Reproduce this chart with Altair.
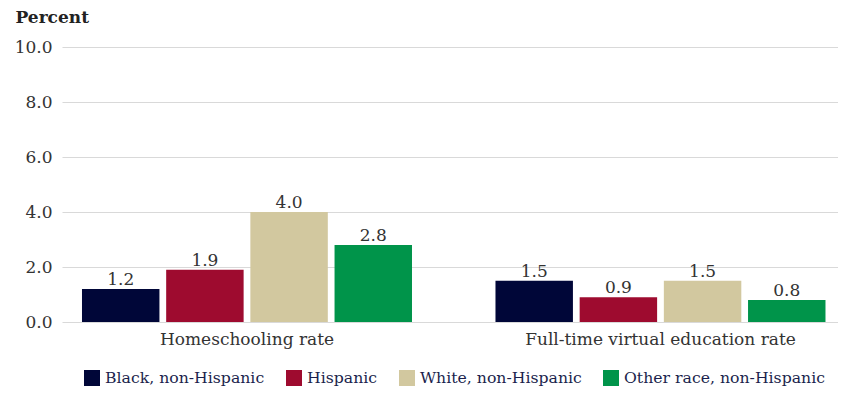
import altair as alt
import pandas as pd

measures = ["Homeschooling rate", "Full-time virtual education rate"]
races = ["Black, non-Hispanic", "Hispanic", "White, non-Hispanic", "Other race, non-Hispanic"]
homeschool = [1.2, 1.9, 4.0, 2.8]
virtual = [1.5, 0.9, 1.5, 0.8]
colors = ["#000638", "#9e0b2f", "#d2c89f", "#00944a"]
y_ticks = [0, 2, 4, 6, 8, 10]

rows = []
for r, v in zip(races, homeschool):
    rows.append({"measure": measures[0], "race": r, "value": v})
for r, v in zip(races, virtual):
    rows.append({"measure": measures[1], "race": r, "value": v})
df = pd.DataFrame(rows)

FONT = "DejaVu Serif"

base = alt.Chart(df).encode(
    x=alt.X("measure:N", sort=measures,
            scale=alt.Scale(paddingInner=0.2019, paddingOuter=0.0393, align=0.615),
            axis=alt.Axis(title=None, labelAngle=0, domain=False, ticks=False, tickSize=0,
                          labelPadding=9, labelLimit=0, labelFont=FONT, labelFontSize=17,
                          labelColor="#333333")),
    xOffset=alt.XOffset("race:N", sort=races,
                        scale=alt.Scale(paddingInner=0.08, paddingOuter=0.0)),
    y=alt.Y("value:Q", scale=alt.Scale(domain=[0, 10]),
            axis=alt.Axis(values=y_ticks, format=".1f", title="Percent", titleAngle=0,
                          titleAlign="left", titleBaseline="alphabetic", titleX=-47, titleY=-25,
                          titleFont=FONT, titleFontSize=17, titleFontWeight="bold",
                          titleColor="#222222",
                          domain=False, ticks=False, tickSize=0, labelPadding=10,
                          labelFont=FONT, labelFontSize=17, labelColor="#333333",
                          gridColor="#d9d9d9", gridWidth=1)),
)

bars = base.mark_bar().encode(
    color=alt.Color("race:N", sort=races,
                    scale=alt.Scale(domain=races, range=colors),
                    legend=alt.Legend(title=None, orient="none", direction="horizontal",
                                      columns=4, legendX=22, legendY=323,
                                      symbolType="square", symbolSize=256,
                                      symbolStrokeWidth=0, symbolOpacity=1,
                                      labelFont=FONT, labelFontSize=15.7, labelLimit=0,
                                      labelColor="#1b1f4d", labelOffset=5,
                                      columnPadding=21, padding=0))
)

labels = base.mark_text(baseline="alphabetic", dy=-4, font=FONT, fontSize=17,
                        color="#333333").encode(text=alt.Text("value:Q", format=".1f"))

chart = (bars + labels).properties(
    width=776, height=275,
    padding={"left": 6, "top": 0, "right": 0, "bottom": 0},
).configure_view(stroke=None)

chart.save("out.html", embed_options={"renderer": "svg", "actions": False})
